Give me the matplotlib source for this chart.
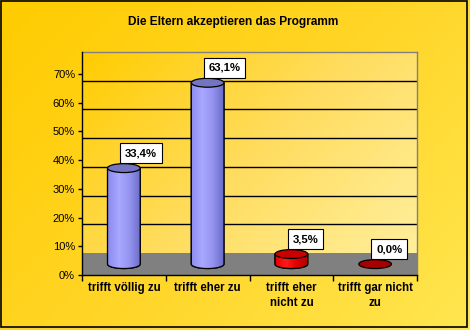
import numpy as np
import matplotlib
matplotlib.use("Agg")
from matplotlib import pyplot as plt
from matplotlib.patches import Ellipse, Polygon, Rectangle
from matplotlib.colors import LinearSegmentedColormap

# data
categories = ["trifft völlig zu", "trifft eher zu", "trifft eher\nnicht zu", "trifft gar nicht\nzu"]
values = [0.334, 0.631, 0.035, 0.0]
body_cols = ["#9999FF", "#9999FF", "#FF0000", "#FF0000"]
top_cols = ["#7474C0", "#7474C0", "#C80000", "#A80000"]
yticks = [0, 0.1, 0.2, 0.3, 0.4, 0.5, 0.6, 0.7]
title = "Die Eltern akzeptieren das Programm"

plt.rcParams['font.family'] = ['Liberation Sans', 'DejaVu Sans']

W, H = 470, 330
fig = plt.figure(figsize=(W / 100, H / 100), dpi=100)

# outer gradient background
bg = fig.add_axes([0, 0, 1, 1], zorder=-10)
gx, gy = np.meshgrid(np.linspace(0, 1, 200), np.linspace(0, 1, 200))
grad = (gx * 0.6 + gy * 0.4)
cm_out = LinearSegmentedColormap.from_list("o", ["#FFCC00", "#FFD526", "#FFE650"])
bg.imshow(grad, cmap=cm_out, extent=[0, 1, 0, 1], aspect='auto', origin='upper')
bg.set_xlim(0, 1)
bg.set_ylim(0, 1)
bg.axis('off')
bg.add_patch(Rectangle((0.5 / W, 3 / H), 466 / W, 326 / H, fill=False,
                       ec='black', lw=1.2, transform=bg.transAxes))

# plot area
d = 0.076  # depth offset of the back wall
ax = fig.add_axes([82 / W, 55 / H, 335 / W, 223 / H])
ax.set_xlim(-0.5, 3.5)
ax.set_ylim(0, 0.70 + d)
cm_in = LinearSegmentedColormap.from_list("i", ["#FFCC00", "#FFDD60", "#FFF0A0"])
ax.imshow(grad, cmap=cm_in, extent=[-0.5, 3.5, 0, 0.70 + d], aspect='auto',
          origin='upper', zorder=0)
ax.axhspan(0, d, color='#808080', zorder=1, lw=0)
for v in yticks[1:-1]:
    ax.axhline(v + d, color='black', lw=1, zorder=1)

w = 0.39
eh = 0.031
for i, (v, bc, tc) in enumerate(zip(values, body_cols, top_cols)):
    base = d / 2
    top = v + d / 2
    if v > 0:
        t = np.linspace(np.pi, 2 * np.pi, 40)
        pts = [(i - w / 2, top)] + list(zip(i + w / 2 * np.cos(t), base + eh / 2 * np.sin(t))) + [(i + w / 2, top)]
        body = Polygon(pts, closed=True, fc=bc, ec='black', lw=0.9, zorder=3)
        ax.add_patch(body)
        if bc == "#9999FF":
            shade = LinearSegmentedColormap.from_list("b", ["#8C8CF0", "#A8A8FF", "#9494F0", "#6A6AC8"])
        else:
            shade = LinearSegmentedColormap.from_list("r", ["#E80000", "#FF1A1A", "#E00000", "#B00000"])
        im = ax.imshow(np.linspace(0, 1, 50).reshape(1, -1), cmap=shade,
                       extent=[i - w / 2, i + w / 2, base - eh, top], aspect='auto', zorder=3.5)
        im.set_clip_path(body)
        ax.add_patch(Polygon(pts, closed=True, fill=False, ec='black', lw=0.9, zorder=3.6))
    ax.add_patch(Ellipse((i, top), w, eh, fc=tc, ec='black', lw=0.9, zorder=4))
    lab = ("%.1f" % (v * 100)).replace('.', ',') + "%"
    ax.annotate(lab, xy=(i, top), xytext=(1, 10), textcoords='offset pixels',
                ha='left', va='bottom', fontsize=8.2, fontweight='bold', zorder=6,
                bbox=dict(boxstyle='square,pad=0.42', fc='white', ec='black', lw=0.8))

ax.set_yticks(yticks)
ax.set_yticklabels(["%d%%" % round(v * 100) for v in yticks], fontsize=8)
ax.set_xticks([-0.5, 0.5, 1.5, 2.5, 3.5])
ax.set_xticklabels([])
ax.set_xticks(range(len(categories)), minor=True)
ax.set_xticklabels(categories, minor=True, fontsize=8.3, fontweight='bold', linespacing=1.3)
ax.tick_params(axis='x', which='minor', length=0, pad=5)
ax.tick_params(axis='x', which='major', length=4, width=1, direction='out')
ax.tick_params(axis='y', length=3, width=1, direction='out', pad=2)
for s in ['left', 'bottom']:
    ax.spines[s].set_color('black')
    ax.spines[s].set_linewidth(1)
    ax.spines[s].set_zorder(5)
for s in ['top', 'right']:
    ax.spines[s].set_color('#808080')
    ax.spines[s].set_linewidth(1)

fig.text(233 / W, 1 - 22 / H, title, ha='center', va='center', fontsize=8.6, fontweight='bold')

fig.savefig("out.png", dpi=100)
